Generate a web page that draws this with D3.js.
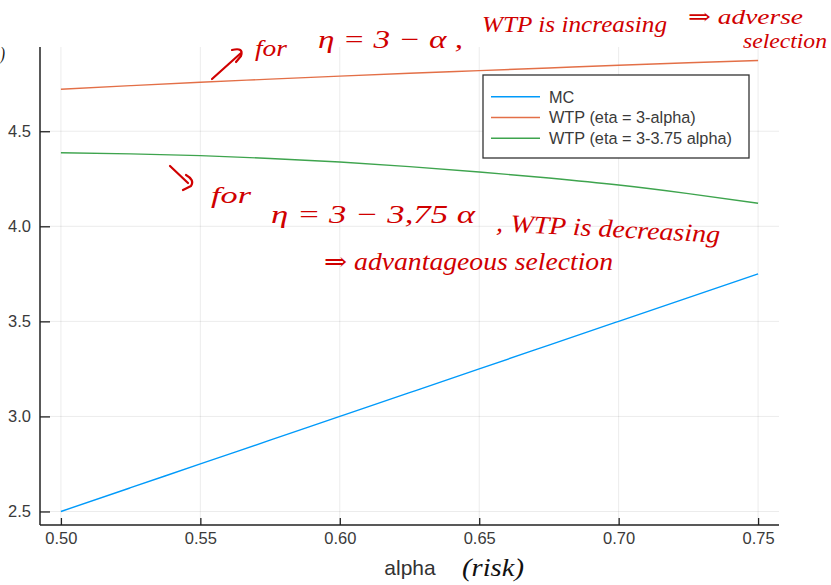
<!DOCTYPE html>
<html>
<head>
<meta charset="utf-8">
<script src="https://cdn.jsdelivr.net/npm/d3@7/dist/d3.min.js"></script>
<style>
  html, body { margin: 0; padding: 0; background: #fff; }
  svg { display: block; }
</style>
</head>
<body>
<svg id="chart" width="831" height="585"></svg>
<script>
// ---- data ----
const alpha = [0.5, 0.525, 0.55, 0.575, 0.6, 0.625, 0.65, 0.675, 0.7, 0.725, 0.75];
const mc = [2.5, 2.625, 2.75, 2.875, 3.0, 3.125, 3.25, 3.375, 3.5, 3.625, 3.75];
const wtpA = [4.721, 4.740, 4.758, 4.774, 4.790, 4.805, 4.819, 4.833, 4.847, 4.860, 4.872];
const wtpB = [4.387, 4.381, 4.372, 4.357, 4.338, 4.314, 4.286, 4.254, 4.217, 4.172, 4.121];
const seriesNames = ["MC", "WTP (eta = 3-alpha)", "WTP (eta = 3-3.75 alpha)"];
const seriesColors = ["#009AFA", "#E36F47", "#3EA44E"];
const xTicks = [0.50, 0.55, 0.60, 0.65, 0.70, 0.75];
const yTicks = [2.5, 3.0, 3.5, 4.0, 4.5];
const xLabel = "alpha";

const series = [mc, wtpA, wtpB];

const svg = d3.select("#chart");
const L = 40, R = 779, T = 47, B = 525;

function padded(ext) { const r = ext[1] - ext[0]; return [ext[0] - 0.03 * r, ext[1] + 0.03 * r]; }
const x = d3.scaleLinear().domain(padded(d3.extent(alpha))).range([L, R]);
const y = d3.scaleLinear().domain(padded(d3.extent(series.flat()))).range([B, T]);

// grid
const grid = svg.append("g");
grid.selectAll("line.gx").data(xTicks).join("line")
  .attr("x1", d => x(d)).attr("x2", d => x(d)).attr("y1", T).attr("y2", B)
  .attr("stroke", "#000").attr("stroke-opacity", 0.08).attr("stroke-width", 1);
grid.selectAll("line.gy").data(yTicks).join("line")
  .attr("y1", d => y(d)).attr("y2", d => y(d)).attr("x1", L).attr("x2", R)
  .attr("stroke", "#000").attr("stroke-opacity", 0.08).attr("stroke-width", 1);

// axes
const fmt1 = d3.format(".1f"), fmt2 = d3.format(".2f");
const xAxis = d3.axisBottom(x).tickValues(xTicks).tickFormat(fmt2).tickSize(-7).tickPadding(7);
const yAxis = d3.axisLeft(y).tickValues(yTicks).tickFormat(fmt1).tickSize(-10).tickPadding(9);
const gx = svg.append("g").attr("transform", `translate(0,${B})`).call(xAxis);
const gy = svg.append("g").attr("transform", `translate(${L},0)`).call(yAxis);
gx.select(".domain").attr("d", `M${L},0H${R}`);
gy.select(".domain").attr("d", `M0,${T}V${B}`);
[gx, gy].forEach(g => {
  g.select(".domain").attr("stroke", "#222").attr("stroke-width", 1.5);
  g.selectAll(".tick line").attr("stroke", "#222").attr("stroke-width", 1.3);
  g.selectAll(".tick text").attr("fill", "#3a3a3a")
    .style("font-family", "'Liberation Sans', Arial, sans-serif").style("font-size", "16.5px");
});

// lines
const line = d3.line().x((d, i) => x(alpha[i])).y(d => y(d)).curve(d3.curveMonotoneX);
svg.append("g").selectAll("path").data(series).join("path")
  .attr("d", d => line(d))
  .attr("fill", "none")
  .attr("stroke", (d, i) => seriesColors[i])
  .attr("stroke-width", 1.4);

// legend
const lg = svg.append("g");
lg.append("rect").attr("x", 483).attr("y", 75).attr("width", 266).attr("height", 83)
  .attr("fill", "#fff").attr("stroke", "#333").attr("stroke-width", 1.3);
const items = lg.selectAll("g.item").data(seriesNames).join("g")
  .attr("transform", (d, i) => `translate(0,${96.7 + i * 20.8})`);
items.append("line").attr("x1", 491).attr("x2", 540).attr("y1", 0).attr("y2", 0)
  .attr("stroke", (d, i) => seriesColors[i]).attr("stroke-width", 1.4);
items.append("text").attr("x", 549).attr("y", 0).attr("dy", "0.36em")
  .text(d => d).attr("fill", "#3a3a3a")
  .style("font-family", "'Liberation Sans', Arial, sans-serif").style("font-size", "16.3px");

// x label
svg.append("text").attr("x", 410).attr("y", 575).attr("text-anchor", "middle")
  .text(xLabel).attr("fill", "#333")
  .style("font-family", "'Liberation Sans', Arial, sans-serif").style("font-size", "21px");

// hand-written annotations
const red = "#d00000";
const hand = "'Liberation Serif', 'DejaVu Serif', serif";
const notes = [
  { t: "for", x: 255, y: 56, w: 32, s: 24, c: red },
  { t: "\u03B7 = 3 \u2212 \u03B1 ,", x: 318, y: 48, w: 145, s: 26, c: red },
  { t: "WTP is increasing", x: 482, y: 32, w: 185, s: 24, c: red },
  { t: "\u21D2 adverse", x: 688, y: 24, w: 115, s: 22, c: red },
  { t: "selection", x: 743, y: 48, w: 84, s: 22, c: red },
  { t: "for", x: 211, y: 203, w: 40, s: 24, c: red },
  { t: "\u03B7 = 3 \u2212 3,75 \u03B1", x: 271, y: 223, w: 204, s: 26, c: red },
  { t: ", WTP is decreasing", x: 496, y: 231, w: 224, s: 25, c: red, r: 3 },
  { t: "\u21D2 advantageous selection", x: 324, y: 270, w: 289, s: 25, c: red },
  { t: "(risk)", x: 462, y: 576, w: 62, s: 25, c: "#111" },
  { t: ")", x: 0, y: 60, w: 5, s: 18, c: "#111" }
];
svg.append("g").selectAll("text").data(notes).join("text")
  .attr("x", d => d.x).attr("y", d => d.y)
  .attr("transform", d => d.r ? `rotate(${d.r},${d.x},${d.y})` : null)
  .attr("textLength", d => d.w).attr("lengthAdjust", "spacingAndGlyphs")
  .attr("fill", d => d.c)
  .style("font-family", hand).style("font-style", "italic").style("font-size", d => d.s + "px")
  .text(d => d.t);

const arrows = [
  "M212,79 L241,53 M232,50 Q244,47 241,56 L236,62",
  "M170,166 L188,183 M186,175 Q195,180 191,186 L183,190"
];
svg.append("g").selectAll("path").data(arrows).join("path")
  .attr("d", d => d).attr("fill", "none").attr("stroke", red)
  .attr("stroke-width", 2.2).attr("stroke-linecap", "round").attr("stroke-linejoin", "round");
</script>
</body>
</html>
